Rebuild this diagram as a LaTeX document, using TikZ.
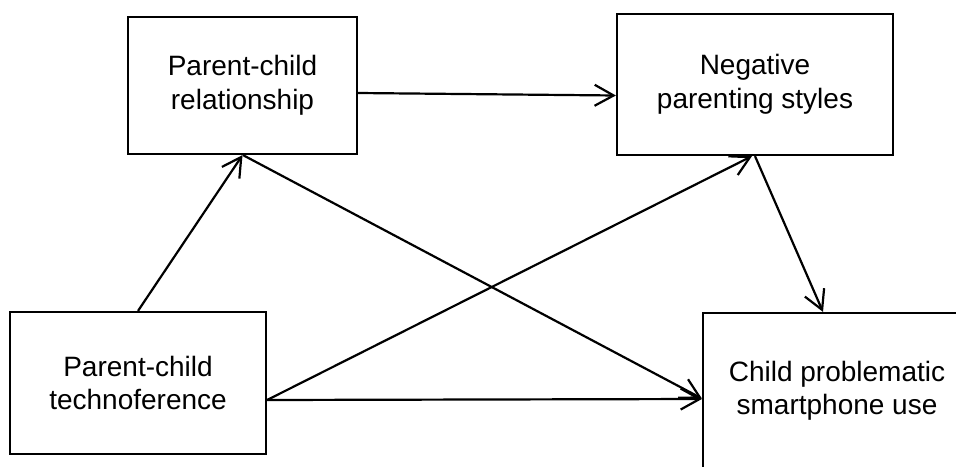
\documentclass[tikz,border=0pt]{standalone}
\usepackage{fontspec}
\setmainfont{Liberation Sans}
\usetikzlibrary{arrows.meta}
\tikzset{
  box/.style={draw=black, line width=2.2pt, fill=white, align=center, inner sep=0pt,
    font=\fontsize{28}{33.5}\selectfont},
  conn/.style={draw=black, line width=2.2pt, -{Straight Barb[length=19pt,width=21pt,line width=2.2pt]}}
}
\begin{document}
\begin{tikzpicture}[x=1pt,y=-1pt]
\useasboundingbox (0,0) rectangle (956,466);
\clip (0,0) rectangle (956,466);
\fill[white] (0,0) rectangle (956,466);
\node[box, minimum width=229pt, minimum height=137pt] (rel) at (242.5,85.5) {Parent-child\\relationship};
\node[box, minimum width=276pt, minimum height=141pt] (neg) at (755,84.5) {Negative\\parenting styles};
\node[box, minimum width=256pt, minimum height=142pt] (tech) at (138,383) {Parent-child\\technoference};
\node[box, minimum width=268pt, minimum height=156pt] (child) at (837,391) {Child problematic\\smartphone use};
\draw[conn] (tech.north) -- (rel.south);
\draw[conn] ([yshift=-7.5pt]rel.east) -- ([yshift=-11pt]neg.west);
\draw[conn] ([xshift=0.5pt]rel.south) -- ([yshift=-7.5pt]child.west);
\draw[conn] ([yshift=-17pt]tech.east) -- ([xshift=-3pt]neg.south);
\draw[conn] ([yshift=-17pt]tech.east) -- ([yshift=-8pt]child.west);
\draw[conn] (neg.south) -- ([xshift=-14pt]child.north);
\end{tikzpicture}
\end{document}
